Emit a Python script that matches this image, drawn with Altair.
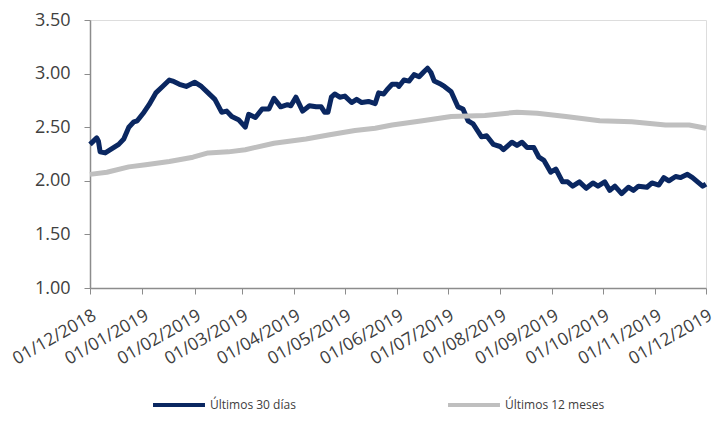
import altair as alt
import pandas as pd

# Últimos 30 días (navy)
d30_dates = ["2018-12-01","2018-12-05","2018-12-06","2018-12-07","2018-12-10","2018-12-14","2018-12-18","2018-12-21",
             "2018-12-24","2018-12-27","2018-12-29","2019-01-02","2019-01-05","2019-01-09","2019-01-13","2019-01-17",
             "2019-01-19","2019-01-23","2019-01-27","2019-02-01","2019-02-05","2019-02-09","2019-02-13","2019-02-17",
             "2019-02-20","2019-02-23","2019-02-27","2019-03-03","2019-03-05","2019-03-09","2019-03-13","2019-03-17",
             "2019-03-20","2019-03-24","2019-03-28","2019-03-30","2019-04-02","2019-04-06","2019-04-10","2019-04-14",
             "2019-04-17","2019-04-19","2019-04-21","2019-04-23","2019-04-25","2019-04-28","2019-05-01","2019-05-05",
             "2019-05-08","2019-05-11","2019-05-15","2019-05-19","2019-05-21","2019-05-24","2019-05-26","2019-05-29",
             "2019-06-01","2019-06-02","2019-06-05","2019-06-08","2019-06-11","2019-06-14","2019-06-17","2019-06-19",
             "2019-06-21","2019-06-23","2019-06-27","2019-06-29","2019-07-03","2019-07-07","2019-07-10","2019-07-13",
             "2019-07-16","2019-07-21","2019-07-24","2019-07-28","2019-08-01","2019-08-03","2019-08-08","2019-08-11",
             "2019-08-14","2019-08-17","2019-08-21","2019-08-24","2019-08-27","2019-08-31","2019-09-03","2019-09-07",
             "2019-09-10","2019-09-13","2019-09-17","2019-09-21","2019-09-25","2019-09-28","2019-10-02","2019-10-05",
             "2019-10-08","2019-10-12","2019-10-16","2019-10-19","2019-10-22","2019-10-27","2019-10-30","2019-11-03",
             "2019-11-06","2019-11-09","2019-11-13","2019-11-16","2019-11-20","2019-11-23","2019-11-26","2019-11-29",
             "2019-12-01"]
d30_values = [2.34,2.40,2.37,2.27,2.26,2.30,2.34,2.39,
              2.50,2.55,2.56,2.64,2.71,2.82,2.88,2.94,
              2.93,2.90,2.88,2.92,2.88,2.82,2.76,2.64,
              2.65,2.60,2.57,2.50,2.62,2.59,2.67,2.67,
              2.77,2.69,2.71,2.70,2.78,2.65,2.70,2.69,
              2.69,2.64,2.64,2.78,2.81,2.78,2.79,2.73,
              2.76,2.73,2.74,2.72,2.82,2.81,2.85,2.90,
              2.90,2.88,2.94,2.93,2.99,2.97,3.02,3.05,
              3.01,2.93,2.90,2.88,2.83,2.69,2.67,2.56,
              2.53,2.41,2.42,2.34,2.32,2.29,2.36,2.33,
              2.36,2.31,2.31,2.22,2.19,2.08,2.11,1.99,
              1.99,1.95,1.99,1.93,1.98,1.95,1.99,1.91,
              1.95,1.88,1.94,1.91,1.95,1.94,1.98,1.96,
              2.03,2.00,2.04,2.03,2.06,2.03,1.99,1.95,
              1.97]

# Últimos 12 meses (gray)
d12_dates = ["2018-12-01","2018-12-11","2018-12-24","2019-01-03","2019-01-17","2019-01-31","2019-02-09","2019-02-21",
             "2019-03-03","2019-03-20","2019-04-08","2019-04-22","2019-05-07","2019-05-19","2019-05-29","2019-06-16",
             "2019-07-03","2019-07-23","2019-08-11","2019-08-23","2019-09-09","2019-09-29","2019-10-18","2019-11-07",
             "2019-11-21","2019-12-01"]
d12_values = [2.06,2.08,2.13,2.15,2.18,2.22,2.26,2.27,
              2.29,2.35,2.39,2.43,2.47,2.49,2.52,2.56,
              2.60,2.61,2.64,2.63,2.60,2.56,2.55,2.52,
              2.52,2.49]

s30 = "Últimos 30 días"
s12 = "Últimos 12 meses"
series_names = [s30, s12]
series_colors = ["#0A2761", "#BFBFBF"]

y_ticks = [1.0, 1.5, 2.0, 2.5, 3.0, 3.5]
x_tick_months = [(2018, 12)] + [(2019, m) for m in range(1, 13)]

df = pd.concat([
    pd.DataFrame({"date": d30_dates, "value": d30_values, "series": s30}),
    pd.DataFrame({"date": d12_dates, "value": d12_values, "series": s12}),
])

FONT = "Open Sans"

x_enc = alt.X(
    "date:T",
    scale=alt.Scale(type="utc",
                    domain=[alt.DateTime(year=2018, month=12, date=1, utc=True),
                            alt.DateTime(year=2019, month=12, date=1, utc=True)]),
    axis=alt.Axis(
        values=[alt.DateTime(year=y, month=m, date=1, utc=True) for y, m in x_tick_months],
        format="%d/%m/%Y", labelAngle=-30, labelFontSize=17.5, labelFont=FONT,
        labelColor="#404040", labelPadding=12, tickSize=6, tickColor="#8C8C8C",
        domainColor="#8C8C8C", domainWidth=1.5, grid=False, title=None,
        labelOverlap=False, labelFlush=False, labelBound=False,
    ),
)
y_enc = alt.Y(
    "value:Q",
    scale=alt.Scale(domain=[1.0, 3.5], nice=False, zero=False),
    axis=alt.Axis(
        values=y_ticks, format=".2f", labelFontSize=18, labelFont=FONT,
        labelColor="#404040", labelPadding=14, tickSize=6, tickColor="#8C8C8C",
        domainColor="#8C8C8C", domainWidth=1.5, grid=False, title=None,
    ),
)
color_enc = alt.Color(
    "series:N",
    scale=alt.Scale(domain=series_names, range=series_colors),
    legend=alt.Legend(
        orient="none", legendX=61, legendY=357, direction="horizontal", title=None,
        symbolType="stroke", symbolSize=2700, symbolStrokeWidth=4,
        labelFontSize=12, labelFont=FONT, labelColor="#404040",
        columnPadding=144, labelOffset=3,
    ),
)

base = alt.Chart(df).encode(x=x_enc, y=y_enc, color=color_enc)
line30 = base.transform_filter(alt.datum.series == s30).mark_line(strokeWidth=5, strokeJoin="round")
line12 = base.transform_filter(alt.datum.series == s12).mark_line(strokeWidth=5, strokeJoin="round")

chart = alt.layer(line30, line12).properties(
    width=616, height=268,
    autosize=alt.AutoSizeParams(type="none"),
    padding={"left": 82, "top": 12, "right": 11, "bottom": 125},
).configure_view(strokeWidth=0).configure(background="white")

chart.save("out.html", embed_options={"renderer": "svg", "actions": False})
